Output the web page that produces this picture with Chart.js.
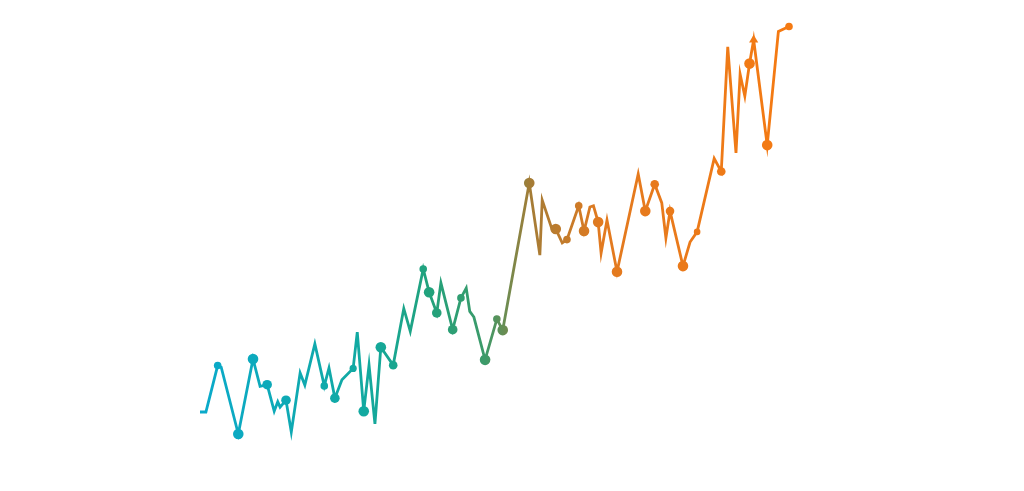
<!DOCTYPE html>
<html>
<head>
<meta charset="utf-8">
<script src="https://cdn.jsdelivr.net/npm/chart.js@4/dist/chart.umd.min.js"></script>
<style>
  html, body { margin: 0; padding: 0; background: #ffffff; }
  #wrap { width: 1024px; height: 491px; }
</style>
</head>
<body>
<div id="wrap"><canvas id="trend"></canvas></div>
<script>
// data (arbitrary units, no axes shown)
const xValues = [
  0, 1.0, 3.0, 3.6, 6.5, 9.0, 10.2, 11.4, 12.6, 13.2,
  13.6, 14.6, 15.5, 17.0, 17.8, 19.5, 21.1, 21.9, 22.9, 24.1,
  26.0, 26.7, 27.8, 28.7, 29.7, 30.7, 32.8, 34.6, 35.7, 37.9,
  38.9, 40.2, 40.9, 42.9, 44.3, 45.2, 45.8, 46.5, 48.4, 50.4,
  51.4, 55.9, 57.7, 58.1, 59.8, 60.4, 61.5, 62.3, 64.3, 65.2,
  66.2, 66.8, 67.6, 68.1, 69.1, 70.8, 74.4, 75.6, 77.2, 78.4,
  79.1, 79.8, 82.0, 83.2, 84.4, 87.3, 88.5, 89.6, 91.0, 91.7,
  92.5, 93.3, 94.0, 96.3, 98.2, 100
];
const yValues = [
  5.4, 5.4, 16.8, 16.4, 0, 18.4, 11.7, 12.1, 5.6, 7.9,
  6.6, 8.3, 0.5, 15.0, 12.0, 22.1, 11.8, 16.2, 8.8, 13.3,
  16.1, 25.0, 5.6, 16.9, 2.5, 21.3, 16.9, 30.8, 25.2, 40.5,
  34.8, 29.7, 37.1, 25.6, 33.4, 35.8, 30.1, 28.7, 18.2, 28.2,
  25.5, 61.6, 43.9, 57.4, 50.1, 50.3, 46.9, 47.7, 56.0, 49.8,
  55.7, 56.0, 52.0, 44.4, 52.5, 39.8, 63.8, 54.7, 61.3, 56.7,
  48.1, 54.7, 41.2, 47.1, 49.6, 67.6, 64.4, 95.0, 69.0, 88.3,
  82.9, 90.9, 96.7, 70.9, 98.8, 100
];
// marker size per point (0 = no marker)
const markerSizes = [
  0, 0, 3.8, 0, 5.3, 5.3, 0, 4.8, 0, 0,
  0, 4.8, 0, 0, 0, 0, 3.8, 0, 4.8, 0,
  3.6, 0, 5.3, 0, 0, 5.3, 4.3, 0, 0, 3.8,
  5.3, 4.8, 0, 4.8, 3.8, 0, 0, 0, 5.3, 3.8,
  5.3, 5.3, 0, 0, 0, 5.3, 0, 3.8, 3.8, 5.3,
  0, 0, 5.3, 0, 0, 5.3, 0, 5.3, 4.3, 0,
  0, 4.3, 5.3, 0, 3.3, 0, 4.3, 0, 0, 0,
  0, 5.3, 5.3, 5.3, 0, 3.8
];
const triangleIndex = 72;

// colour ramp along x
const colorStops = [
  [0.00, '#0aaacb'],
  [0.28, '#12a9a0'],
  [0.39, '#22a27c'],
  [0.485, '#3d9a69'],
  [0.56, '#a47c36'],
  [0.68, '#e27a20'],
  [1.00, '#f57a12']
];

let cachedGradient = null;
let cachedWidth = 0;

function rampColor(context) {
  const chart = context.chart;
  const area = chart.chartArea;
  if (!area) return '#0aaacb';
  if (!cachedGradient || cachedWidth !== area.width) {
    const g = chart.ctx.createLinearGradient(area.left, 0, area.right, 0);
    colorStops.forEach(s => g.addColorStop(s[0], s[1]));
    cachedGradient = g;
    cachedWidth = area.width;
  }
  return cachedGradient;
}

const points = xValues.map((x, i) => ({ x: x, y: yValues[i] }));

new Chart(document.getElementById('trend'), {
  type: 'line',
  data: {
    datasets: [{
      data: points,
      borderColor: rampColor,
      backgroundColor: rampColor,
      pointBackgroundColor: rampColor,
      pointBorderColor: rampColor,
      borderWidth: 2.8,
      pointBorderWidth: 0,
      pointRadius: markerSizes,
      pointStyle: markerSizes.map((r, i) => i === triangleIndex ? 'triangle' : 'circle'),
      tension: 0,
      fill: false,
      clip: false
    }]
  },
  options: {
    responsive: true,
    maintainAspectRatio: false,
    animation: false,
    layout: {
      padding: { left: 200, right: 235, top: 26.5, bottom: 57 }
    },
    plugins: {
      legend: { display: false },
      tooltip: { enabled: false }
    },
    scales: {
      x: { type: 'linear', min: 0, max: 100, display: false },
      y: { type: 'linear', min: 0, max: 100, display: false }
    }
  }
});
</script>
</body>
</html>
